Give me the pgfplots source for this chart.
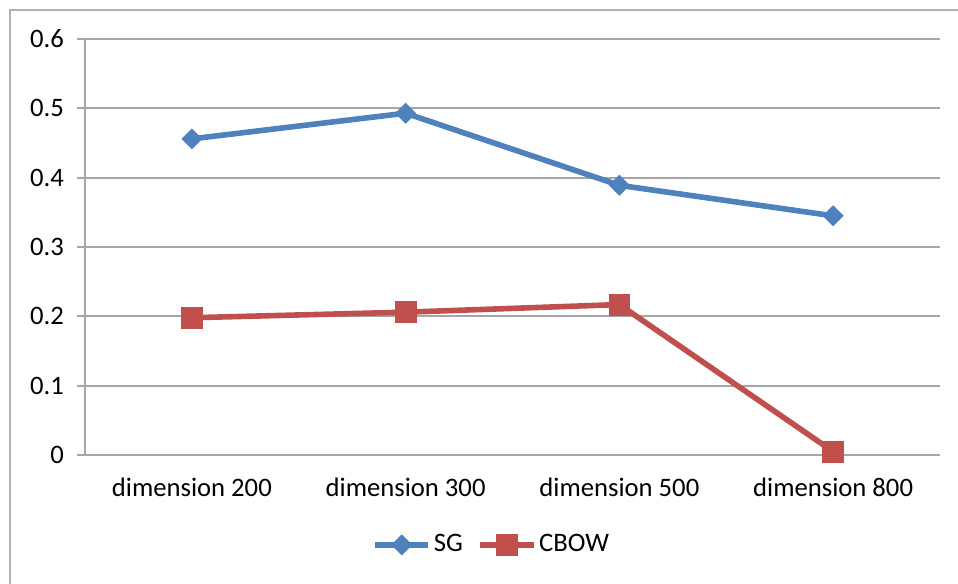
\documentclass[border=0pt]{standalone}
\usepackage{fontspec}
\setmainfont{Carlito}
\usepackage{pgfplots}
\pgfplotsset{compat=1.18}
\definecolor{sgblue}{RGB}{79,129,189}
\definecolor{cbred}{RGB}{192,80,77}
\definecolor{gridgray}{RGB}{166,166,166}
\definecolor{framegray}{RGB}{178,178,178}

\begin{document}
\begin{tikzpicture}
\fontsize{20}{24}\selectfont
% page = 958 x 583 px, 1px = 0.75pt
\useasboundingbox (0,0) rectangle (718.5pt,-437.25pt);
\draw[framegray, line width=1.5pt] (7.5pt,-450pt) -- (7.5pt,-7.5pt) -- (730pt,-7.5pt);
\begin{axis}[
  at={(63.75pt,-341.25pt)}, anchor=south west,
  scale only axis,
  width=641.25pt, height=312pt,
  xmin=-0.5, xmax=3.5,
  ymin=0, ymax=0.6,
  axis x line*=bottom, axis y line*=left,
  axis line style={gridgray, line width=1.5pt},
  xtick={0,1,2,3},
  xticklabels={dimension 200, dimension 300, dimension 500, dimension 800},
  minor xtick={-0.5,0.5,1.5,2.5,3.5},
  xtick style={draw=none},
  minor tick style={gridgray, line width=1.5pt},
  ytick={0,0.1,0.2,0.3,0.4,0.5,0.6},
  yticklabels={0,0.1,0.2,0.3,0.4,0.5,0.6},
  ytick style={gridgray, line width=1.5pt},
  tick align=outside,
  major tick length=6pt, minor tick length=6pt,
  ymajorgrids=true,
  grid style={gridgray, line width=1.5pt},
  ticklabel style={font=\fontsize{20}{24}\selectfont},
  xticklabel style={yshift=-4pt},
  yticklabel style={xshift=-3pt},
  clip=false,
  legend style={at={(0.476,-0.216)}, anchor=center, draw=none, fill=none,
    legend columns=2, font=\fontsize{20}{24}\selectfont,
    /tikz/every even column/.append style={column sep=9pt}},
  legend image code/.code={
    \draw[mark repeat=2, mark phase=2] plot coordinates {(0pt,0pt) (20pt,0pt) (40pt,0pt)};
  },
]
\addplot[sgblue, line width=4.2pt, mark=square*,
  mark options={rotate=45, line width=0.5pt, fill=sgblue}, mark size=5.3pt]
  coordinates {(0,0.456) (1,0.493) (2,0.389) (3,0.345)};
\addplot[cbred, line width=4.2pt, mark=square*,
  mark options={line width=0.5pt, fill=cbred}, mark size=7.8pt]
  coordinates {(0,0.198) (1,0.206) (2,0.217) (3,0.005)};
\legend{SG, CBOW}
\end{axis}
\end{tikzpicture}
\end{document}
